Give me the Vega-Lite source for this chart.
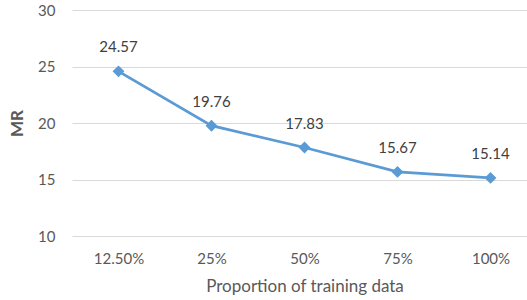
{
  "$schema": "https://vega.github.io/schema/vega-lite/v6.json",
  "autosize": {"type": "none"},
  "width": 465,
  "height": 226,
  "padding": {"left": 72, "top": 10, "right": 0, "bottom": 64},
  "background": "white",
  "config": {
    "view": {"stroke": null},
    "font": "Lato",
    "axis": {"labelFont": "Lato", "titleFont": "Lato", "labelColor": "#595959", "titleColor": "#595959", "labelFontSize": 15, "titleFontSize": 17}
  },
  "data": {
    "values": [
      {"p": "12.50%", "mr": 24.57},
      {"p": "25%", "mr": 19.76},
      {"p": "50%", "mr": 17.83},
      {"p": "75%", "mr": 15.67},
      {"p": "100%", "mr": 15.14}
    ]
  },
  "encoding": {
    "x": {
      "field": "p", "type": "ordinal", "sort": null,
      "scale": {"type": "point", "padding": 0.5},
      "axis": {"title": "Proportion of training data", "labelAngle": 0, "ticks": false, "domain": false, "grid": false, "labelPadding": 15, "titlePadding": 12, "titleFontWeight": "normal"}
    },
    "y": {
      "field": "mr", "type": "quantitative",
      "scale": {"domain": [10, 30], "nice": false, "zero": false},
      "axis": {"title": "MR", "values": [10, 15, 20, 25, 30], "ticks": false, "domain": false, "gridColor": "#d9d9d9", "gridWidth": 1, "labelPadding": 17, "titleFontWeight": "bold", "titleFontSize": 17, "titlePadding": 11}
    }
  },
  "layer": [
    {"mark": {"type": "line", "color": "#5B9BD5", "strokeWidth": 2.75}},
    {"mark": {"type": "point", "shape": "diamond", "filled": true, "opacity": 1, "color": "#5B9BD5", "size": 140}},
    {"mark": {"type": "text", "dy": -24, "fontSize": 15, "color": "#404040", "font": "Lato"}, "encoding": {"text": {"field": "mr", "type": "quantitative", "format": ".2f"}}}
  ]
}
